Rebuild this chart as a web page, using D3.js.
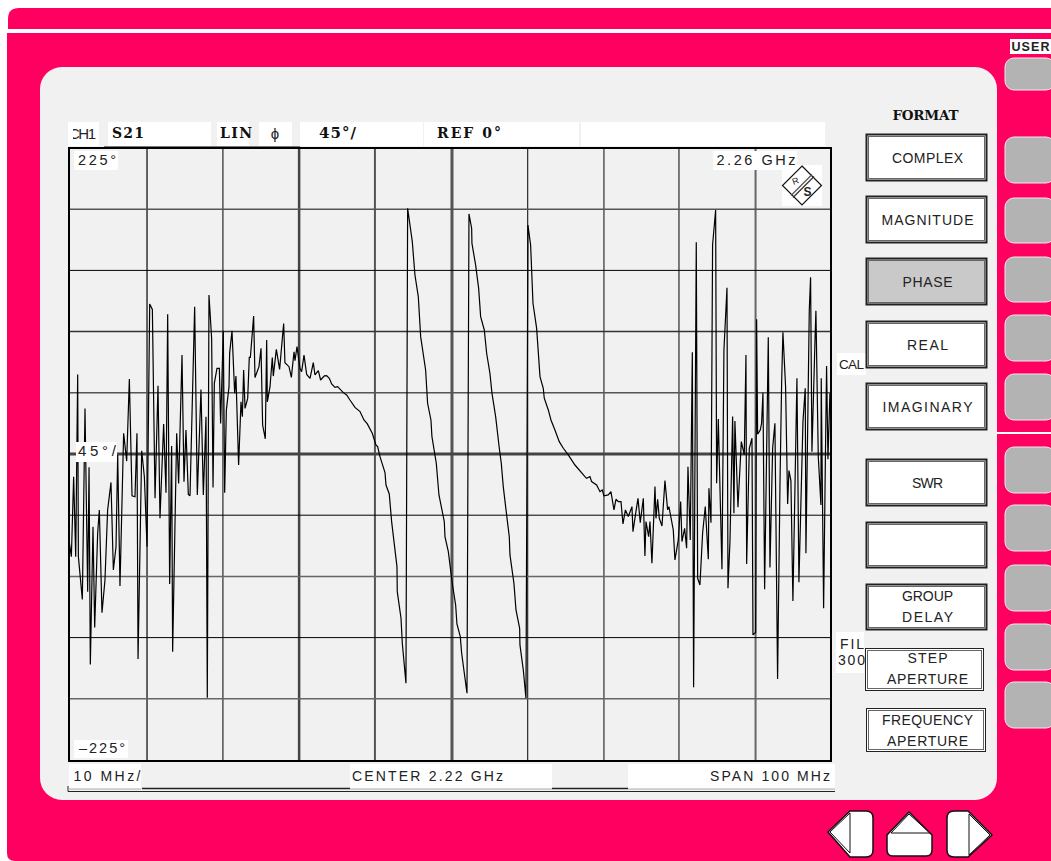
<!DOCTYPE html>
<html>
<head>
<meta charset="utf-8">
<style>
  html, body { margin: 0; padding: 0; background: #fff; }
  svg { display: block; }
  text { font-family: "Liberation Sans", sans-serif; fill: #222; }
  .bold { font-family: "DejaVu Serif", serif; font-weight: bold; fill: #111; }
</style>
<script src="https://cdnjs.cloudflare.com/ajax/libs/d3/7.8.5/d3.min.js"></script>
</head>
<body>
<script>
// trace of S21 phase. offset from sweep start in MHz / degrees
var freqOffset = [0,.31,.61,.88,1.14,1.23,1.75,2.10,2.45,2.63,2.80,3.15,3.37,3.76,3.98,4.33,4.72,5.07,5.51,5.82,6.17,6.39,6.69,7.17,7.57,7.92,8.27,8.66,8.92,9.06,9.54,9.89,
  10.24,10.59,10.94,11.29,11.68,11.94,12.42,12.73,12.95,13.21,13.47,13.60,14.13,14.39,14.83,15.09,15.35,15.66,15.88,16.49,16.84,17.32,17.63,17.98,18.15,18.37,18.72,18.90,19.07,19.42,19.73,19.90,
  20.25,20.43,20.65,21.0,21.08,21.39,21.74,21.91,22.26,22.57,22.75,22.92,23.10,23.45,23.66,23.80,24.23,24.41,24.93,25.20,25.41,25.76,25.94,26.03,26.38,26.68,26.81,27.21,27.64,28.17,28.34,28.87,29.18,29.53,29.66,29.92,
  30.31,30.53,30.84,31.19,31.63,32.06,32.28,32.72,33.02,33.51,33.81,34.16,34.47,34.90,35.25,36.0,36.44,36.87,37.53,38.19,38.71,39.15,39.80,
  40.28,40.50,40.81,41.47,41.60,42.03,42.34,43.04,43.08,43.57,43.74,44.22,44.44,45.05,45.40,45.84,46.15,46.80,47.06,47.50,47.63,48.20,48.55,49.25,49.34,49.78,
  50.30,50.74,50.91,51.35,51.53,52.23,52.49,52.84,52.88,53.36,53.76,54.02,54.50,54.81,55.24,55.51,55.99,56.47,56.73,56.99,57.43,57.78,57.87,58.39,58.66,59.14,59.18,59.62,59.97,
  60.23,60.58,60.89,61.37,61.81,62.24,62.37,62.90,63.25,63.77,64.34,64.87,65.52,66.40,67.71,67.93,68.37,68.58,69.24,69.68,69.98,
  70.20,70.77,71.12,71.52,71.78,72.09,72.44,72.70,73.02,73.40,73.88,74.01,74.40,74.67,74.97,75.37,75.58,75.72,76.07,76.24,76.50,76.90,77.03,77.25,77.47,77.82,78.21,78.56,78.73,79.30,79.52,79.96,
  80.27,80.44,80.79,81.05,81.23,81.53,81.80,81.97,82.32,82.50,82.80,83.15,83.50,83.90,83.98,84.25,84.46,84.86,84.99,85.21,85.69,85.95,86.35,86.48,86.74,87.09,87.26,87.39,87.79,88.23,88.62,88.84,88.93,89.28,89.63,89.76,
  90.11,90.24,90.37,90.72,90.89,91.07,91.29,91.77,91.99,92.34,92.64,92.99,93.30,93.52,93.69,94.04,94.31,94.48,94.74,95.0,95.53,95.79,96.32,96.62,96.71,97.02,97.15,97.32,97.50,97.89,98.02,98.33,98.68,98.72,99.03,99.25,99.42,99.60,99.86];

var phaseDeg = [-63.3,-75.5,-16.7,-75.5,58.5,-75.5,-106.9,33.5,-101.3,-9.8,-154.7,-53.5,-127.5,-58.4,-41.2,-116.7,-92.7,-41.2,-20.9,-85.3,-68.2,-0.8,-97.1,15.2,-5.2,55.1,-30.7,-31.4,15.2,-150.8,2.4,-16.7,
  -68.2,110.3,106.3,-32.6,50.2,-47.3,22.0,-28.5,102.7,-95.6,5.8,-145.4,15.2,-21.6,72.7,-20.4,17.6,-29.7,-30.7,108.3,-30.2,47.5,-30.2,27.4,-179.2,116.9,85.0,-24.6,51.9,63.0,63.0,22.5,
  90.6,-28.5,32.3,49.5,74.0,90.6,44.6,57.3,-8.1,38.4,27.4,61.7,33.5,40.9,71.0,71.0,101.4,56.3,64.2,77.7,21.3,11.2,83.8,38.4,49.5,71.0,57.3,76.9,62.2,96.0,67.1,64.2,56.3,75.2,68.6,78.9,
  63.0,60.5,72.7,58.5,55.6,67.2,58.1,61.3,54.4,57.4,57.6,55.7,51.5,49.0,49.5,45.1,43.4,39.7,34.3,31.2,25.0,22.1,15.2,
  6.7,5.4,-1.9,-13.7,-22.8,-29.4,-49.7,-82.8,-101.2,-120.8,-139.2,-168.6,180.7,156.2,131.6,115.7,86.3,61.8,37.3,25.0,12.8,-6.8,-30.1,-49.7,-60.8,-71.8,
  -95.1,-111.0,-125.0,-134.3,-146.5,-175.9,176.5,166.0,154.9,139.0,121.8,101.0,91.2,74.1,59.3,44.6,27.5,4.2,-6.8,-24.0,-44.8,-60.8,-74.2,-95.1,-114.7,-128.2,-140.4,-158.8,-179.6,
  168.4,153.7,110.8,92.4,56.9,48.3,41.0,32.4,25.0,17.7,9.1,4.2,-0.7,-8.1,-16.6,-17.9,-16.6,-20.3,-22.8,-27.7,-26.4,
  -30.8,-30.1,-27.7,-41.1,-33.3,-35.0,-35.0,-51.4,-41.1,-46.0,-38.7,-57.1,-42.4,-32.6,-50.5,-32.6,-75.0,-49.7,-60.8,-49.7,-80.4,-24.0,-47.3,-33.3,-47.3,-52.9,-19.6,-41.1,-38.7,-55.8,-77.9,-63.2,
  -35.0,-64.4,-54.6,-69.3,-9.3,-63.2,74.8,-171.5,155.7,-91.4,-96.3,-58.3,-38.7,-77.4,-25.2,-50.5,153.7,179.4,-21.5,25.8,-84.8,76.5,122.3,-98.7,-64.4,27.5,-43.6,24.3,-39.2,9.1,-0.7,72.8,-80.9,4.2,11.6,-133.0,
  -131.3,99.1,14.5,17.7,22.6,45.1,-99.5,85.8,-83.5,4.2,22.6,-165.4,-24.0,52.0,89.5,49.5,-36.7,-12.2,-19.6,-108.1,55.7,-94.3,23.8,48.3,-73.0,52.0,105.9,130.0,1.7,81.4,105.4,-1.9,-37.5,55.7,-113.4,-9.3,64.7,-3.9,44.6];

// grid lines, as they sit on the screen
var gridFreq = [10.24,20.2,30.2,40.15,50.26,60.2,70.2,80.05,90.1];
var gridDeg = [180,135,90,45,0,-45,-90,-135,-180];

var softKeys = ['COMPLEX','MAGNITUDE','PHASE','REAL','IMAGINARY','SWR','','GROUP|DELAY','STEP|APERTURE','FREQUENCY|APERTURE'];
var headerLabels = ['S21','LIN','45°/','REF 0°'];

var PINK = '#ff0060', PANEL = '#f1f1f1';

var svg = d3.select('body').append('svg').attr('width', 1051).attr('height', 861);

function box(x, y, w, h, fill, r) {
  return svg.append('rect').attr('x', x).attr('y', y).attr('width', w).attr('height', h)
    .attr('rx', r || 0).attr('fill', fill || '#fff');
}

// width is the run of the text on the screen, the instrument font is wider than ours
function label(x, y, str, size, anchor, width, cls) {
  var t = svg.append('text').attr('x', x).attr('y', y).text(str)
    .attr('font-size', size).attr('text-anchor', anchor || 'start').attr('class', cls || null);
  if(width) {
    t.attr('textLength', width).attr('lengthAdjust', 'spacing');
  }
  return t;
}

// casing
svg.append('path').attr('fill', PINK).attr('d', 'M1051,8H19Q8,8 8,19V29H1051Z');
svg.append('path').attr('fill', PINK).attr('d', 'M7,33H1051V861H15Q7,861 7,853Z');
box(40, 67, 957, 733, PANEL, 22);
box(997, 432, 54, 2, '#fff');

// user side keys
var sideKeys = [[58,32],[137,46],[198,45],[257,45],[315,46],[374,46],[447,46],[505,46],[565,46],[624,46],[682,46]];
sideKeys.forEach(function(k) {
  box(1005, k[0], 50, k[1], '#b3b3b3', 9).attr('stroke', '#f0e8ea').attr('stroke-width', 1);
});
box(1010, 39, 41, 15, '#fff');
label(1030.5, 51, 'USER', 12.5, 'middle', 38).style('font-weight', 'bold');

// header strip
[[68,31],[108,103],[217,32],[259,33],[300,123],[424,155],[581,244]].forEach(function(b) {
  box(b[0], 122, b[1], 24);
});

// plot
var x = d3.scaleLinear().domain([0, 100]).range([69, 831]);
var y = d3.scaleLinear().domain([-225, 225]).range([760, 148]);

// thin black / mid grey / heavy, position on the graticule decides
var vStyle = [[1.5,'#333'],[1,'#000'],[2.5,'#444'],[2,'#555'],[3,'#555'],[1,'#000'],[1.5,'#555'],[1,'#000'],[2,'#666']];
var hStyle = [[1.5,'#555'],[1,'#000'],[1.5,'#333'],[1.5,'#555'],[3,'#444'],[1,'#000'],[1.5,'#666'],[1,'#000'],[1.5,'#666']];

var grid = svg.append('g').attr('class', 'grid');
grid.selectAll('line.v').data(gridFreq).enter().append('line')
  .attr('class', 'v')
  .attr('x1', function(d) { return x(d); }).attr('x2', function(d) { return x(d); })
  .attr('y1', y(225)).attr('y2', y(-225))
  .attr('stroke-width', function(d, i) { return vStyle[i][0]; })
  .attr('stroke', function(d, i) { return vStyle[i][1]; });
grid.selectAll('line.h').data(gridDeg).enter().append('line')
  .attr('class', 'h')
  .attr('x1', x(0)).attr('x2', x(100))
  .attr('y1', function(d) { return y(d); }).attr('y2', function(d) { return y(d); })
  .attr('stroke-width', function(d, i) { return hStyle[i][0]; })
  .attr('stroke', function(d, i) { return hStyle[i][1]; });

// frame
svg.append('rect').attr('x', x(0)).attr('y', y(225)).attr('width', x(100) - x(0)).attr('height', y(-225) - y(225) + 1)
  .attr('fill', 'none').attr('stroke', '#000').attr('stroke-width', 2);
svg.append('line').attr('x1', 104).attr('x2', 300).attr('y1', 147).attr('y2', 147).attr('stroke', '#000').attr('stroke-width', 1);

var trace = d3.line()
  .x(function(d) { return x(d); })
  .y(function(d, i) { return y(phaseDeg[i]); });

svg.append('path').datum(freqOffset)
  .attr('d', trace)
  .attr('fill', 'none').attr('stroke', '#000').attr('stroke-width', 1.2)
  .attr('stroke-linejoin', 'miter').attr('stroke-miterlimit', 2);

// scale labels sit on top of the trace
box(74, 151, 44, 19);
box(713, 151, 84, 19);
box(782, 165, 40, 41);
box(76, 442, 41, 20);
box(74, 740, 54, 18);

// header text, the C of CH1 is cut by the screen edge on the instrument
svg.append('clipPath').attr('id', 'ch-clip').append('rect').attr('x', 73).attr('y', 122).attr('width', 26).attr('height', 24);
label(69, 139, 'CH1', 15, 'start', 27).attr('clip-path', 'url(#ch-clip)');
label(112, 138, headerLabels[0], 14, 'start', 32, 'bold');
label(220, 138, headerLabels[1], 14, 'start', 32, 'bold');
label(275, 139, 'ϕ', 15, 'middle');
label(319, 138, headerLabels[2], 15, 'start', 37, 'bold');
label(437, 138, headerLabels[3], 14, 'start', 64, 'bold');

label(78, 165, '225°', 14.5, 'start', 38);
label(716.5, 164.5, '2.26 GHz', 14.5, 'start', 79);
label(78, 456, '45°/', 15, 'start', 38);
label(79, 753, '–225°', 14.5, 'start', 46);

// R&S mark
var logo = svg.append('g').attr('transform', 'translate(802,185.5)');
logo.append('path').attr('d', 'M0,-19.5L19.5,0L0,19.5L-19.5,0Z').attr('fill', 'none').attr('stroke', '#111').attr('stroke-width', 1.2);
logo.append('path').attr('d', 'M-11,10L10,-11').attr('stroke', '#555').attr('stroke-width', 1.2);
logo.append('path').attr('d', 'M-9,12L12,-9').attr('stroke', '#333').attr('stroke-width', 1.2);
label(796.5, 184, 'R', 9, 'middle').attr('transform', 'rotate(-20 796.5 184)');
label(807.5, 196, 'S', 12, 'middle').style('font-weight', 'bold');

// bottom strip
box(69, 764, 72, 25);
box(350, 764, 202, 25);
box(628, 764, 207, 25);
svg.append('path').attr('d', 'M68,786V791.5H835').attr('stroke', '#222').attr('stroke-width', 1).attr('fill', 'none');
svg.append('path').attr('d', 'M142,788.5H350M552,788.5H628').attr('stroke', '#222').attr('stroke-width', 1.5).attr('fill', 'none');
svg.append('path').attr('d', 'M69,789H141M350,789H552M628,789H835').attr('stroke', '#aaa').attr('stroke-width', 1).attr('fill', 'none');
label(73.5, 781, '10 MHz/', 14, 'start', 67);
label(352, 781, 'CENTER 2.22 GHz', 14, 'start', 151);
label(710, 781, 'SPAN 100 MHz', 14, 'start', 120);

// right panel
label(925.5, 120, 'FORMAT', 13.5, 'middle', 66, 'bold');

box(837, 353, 29, 22);
label(839, 369, 'CAL', 13.5, 'start', 25);
box(836, 632, 28, 41);
label(840, 649, 'FIL', 14, 'start', 24);
label(838, 665, '300', 14, 'start', 27);

var keyPos = [[866,134,121,47],[866,196,121,47],[866,258,121,47],[866,321,121,47],[866,383,121,47],
  [866,459,121,47],[866,522,121,46],[866,584,121,46],[865,648,119,43],[866,708,120,44]];
var keyTextWidth = [[71],[92],[50],[41],[90],[31],[],[51,51],[40,81],[91,81]];

keyPos.forEach(function(p, i) {
  var selected = softKeys[i] === 'PHASE';
  var light = i >= 8;
  box(p[0], p[1], p[2], p[3], selected ? '#c9c9c9' : '#fff');
  svg.append('rect').attr('x', p[0] + 0.5).attr('y', p[1] + 0.5).attr('width', p[2] - 1).attr('height', p[3] - 1)
    .attr('fill', 'none').attr('stroke', '#222').attr('stroke-width', light ? 1 : 2);
  svg.append('rect').attr('x', p[0] + 2.5).attr('y', p[1] + 2.5).attr('width', p[2] - 5).attr('height', p[3] - 5)
    .attr('fill', 'none').attr('stroke', '#666').attr('stroke-width', 1);
  if(!softKeys[i]) { return; }
  var parts = softKeys[i].split('|');
  var cx = 927.5;
  if(parts.length === 1) {
    label(cx, p[1] + p[3] / 2 + 5, parts[0], 14, 'middle', keyTextWidth[i][0]);
  } else {
    var top = i === 8 ? p[1] + 15 : p[1] + 17;
    label(cx, top, parts[0], 14, 'middle', keyTextWidth[i][0]);
    label(cx, top + 20.5, parts[1], 14, 'middle', keyTextWidth[i][1]);
  }
});

// cursor keys
function arrowKey(outline, tri) {
  svg.append('path').attr('d', outline).attr('fill', '#fff').attr('stroke', '#111').attr('stroke-width', 1.5);
  svg.append('path').attr('d', tri).attr('fill', 'none').attr('stroke', '#111').attr('stroke-width', 1);
}
arrowKey('M828,832L850,811H866Q873,811 873,818V850Q873,857 866,857H850Z', 'M830,832L850,813V853Z');
arrowKey('M909,812L932,835V850Q932,856 926,856H893Q887,856 887,850V835Z', 'M891,833L909,814L930,833Z');
arrowKey('M992,835L968,811H954Q947,811 947,818V850Q947,857 954,857H968Z', 'M969,814L990,835L969,855Z');
</script>
</body>
</html>
